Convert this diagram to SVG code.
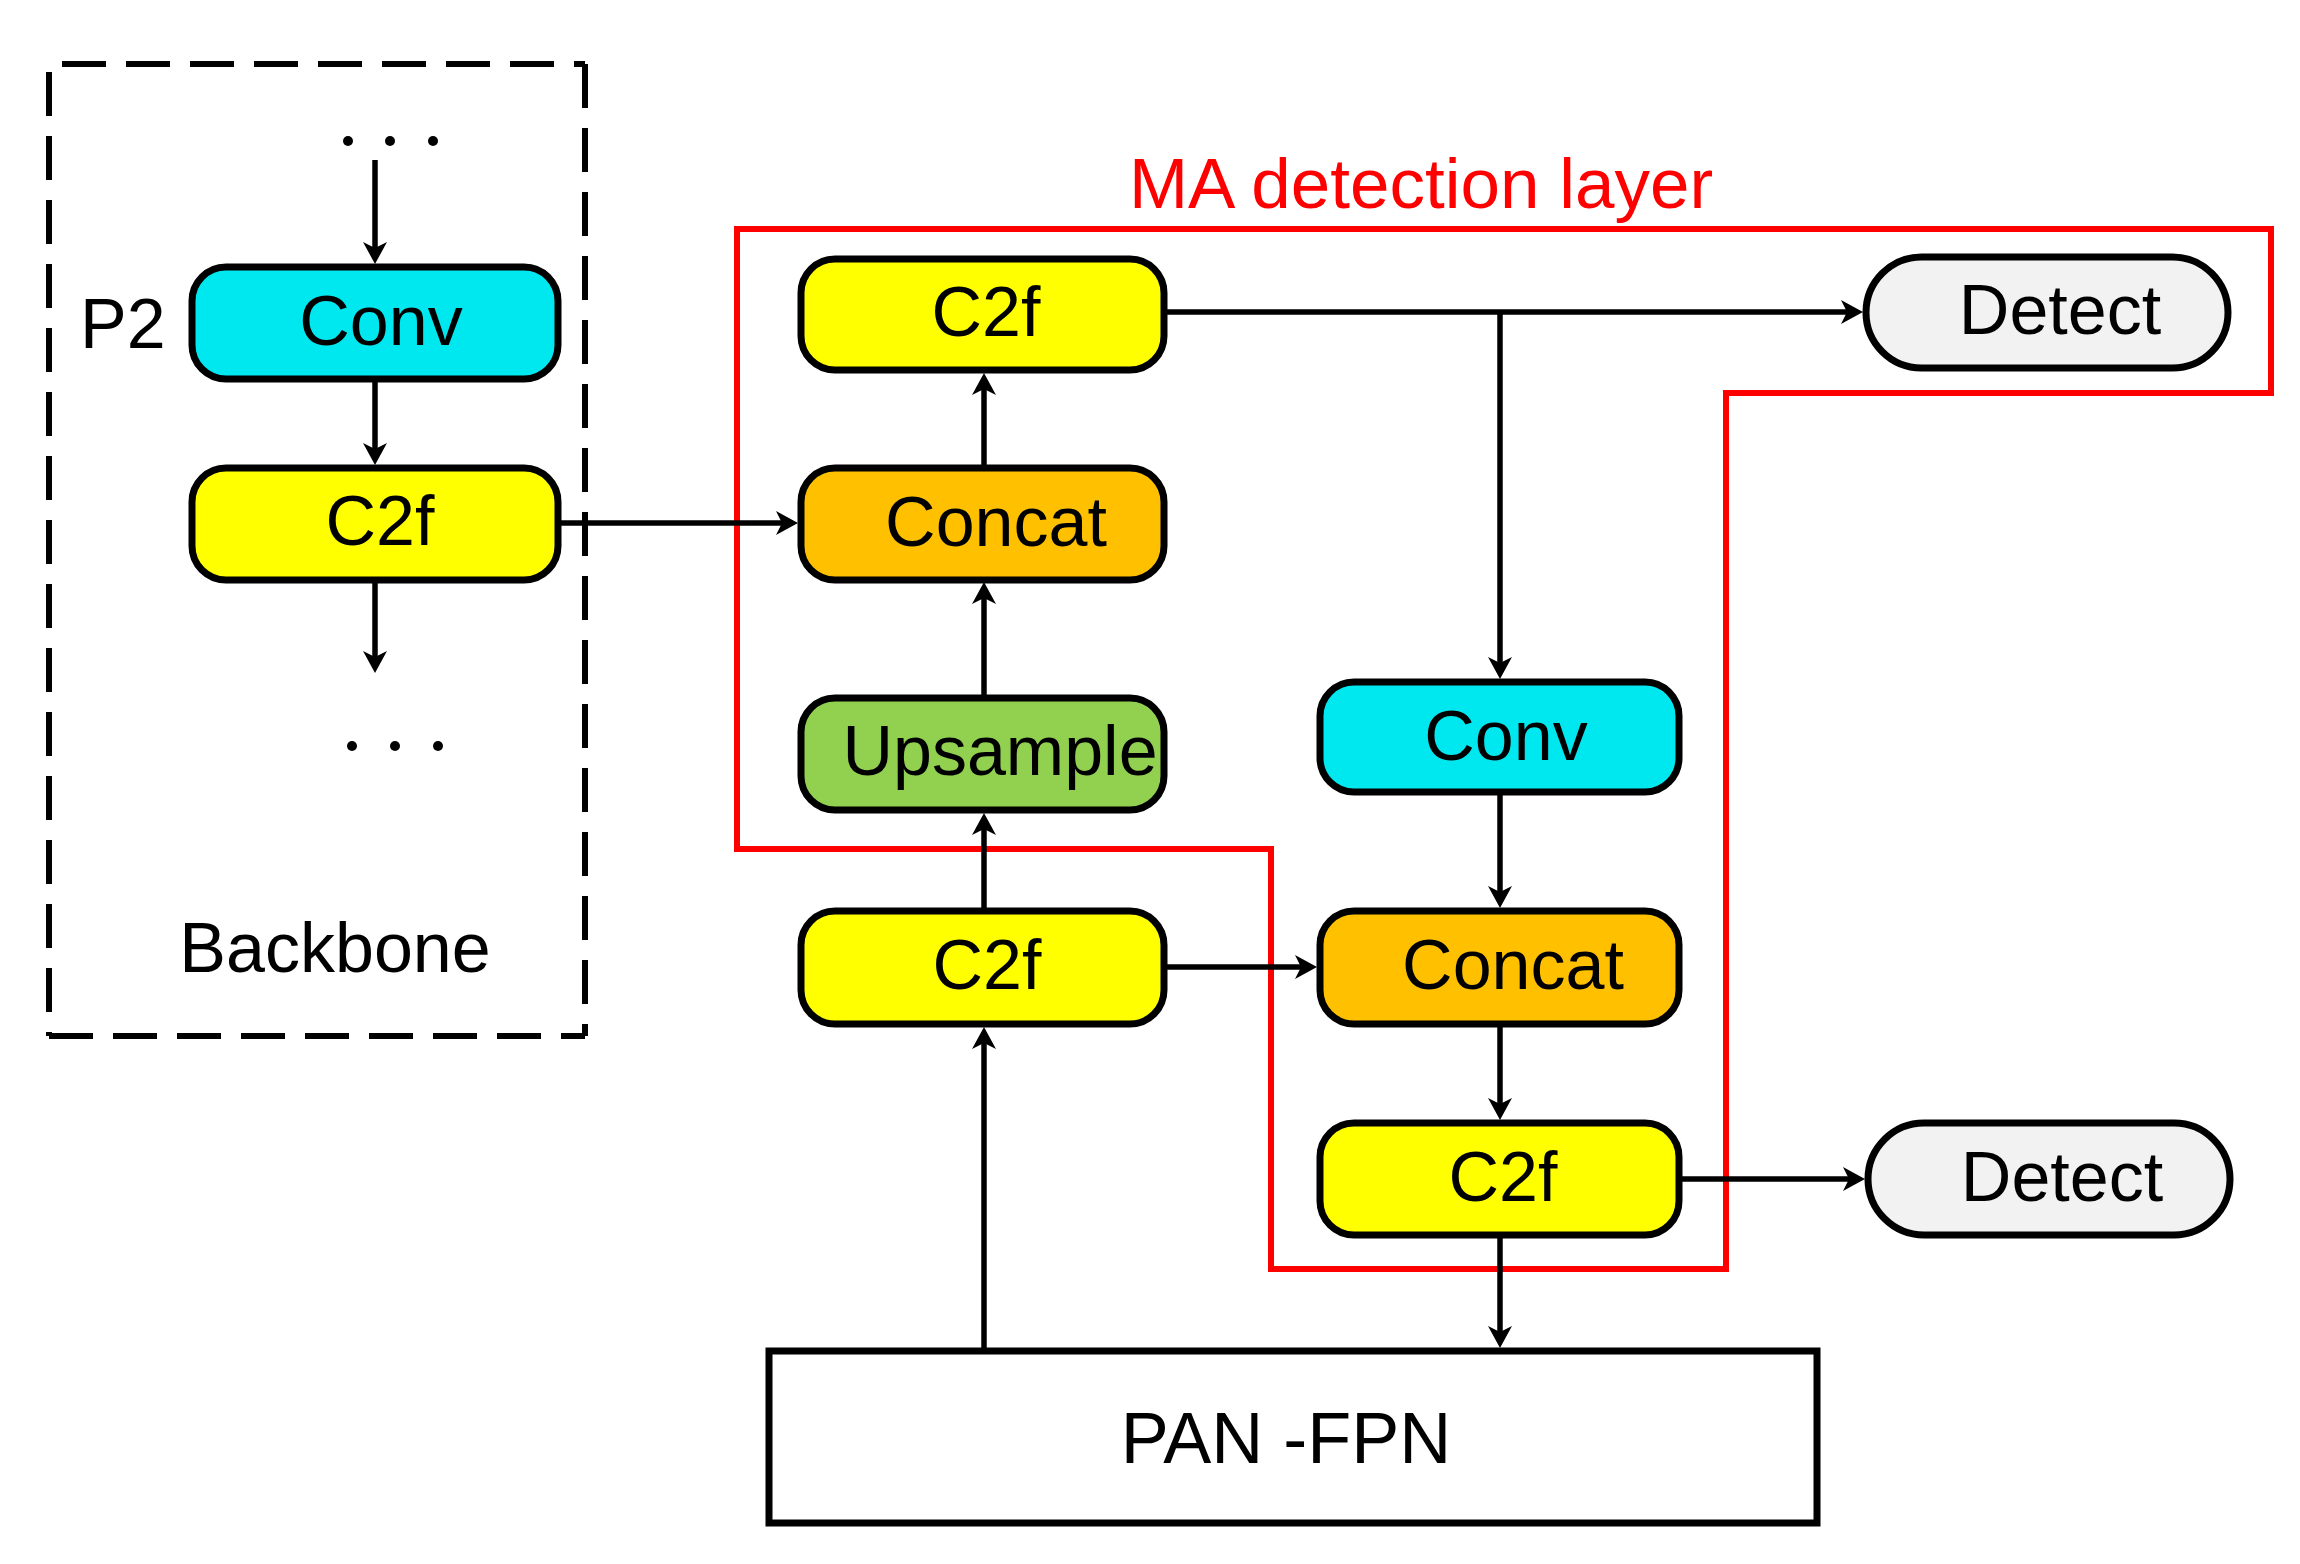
<svg xmlns="http://www.w3.org/2000/svg" width="2300" height="1564" viewBox="0 0 2300 1564">
<style>
.node{stroke:#000;stroke-width:7}
.t{font-family:"Liberation Sans",Arial,sans-serif;font-size:70px;fill:#000;text-anchor:middle}
.conn{stroke:#000;stroke-width:5.5;fill:none;marker-end:url(#ah)}
.yellow{fill:#FFFF00}
.cyan{fill:#00E8EF}
.orange{fill:#FFC000}
.green{fill:#92D050}
.grey{fill:#F2F2F2}
</style>
<defs>
<marker id="ah" viewBox="-14 -13 26 26" refX="0" refY="0" markerWidth="26" markerHeight="26" orient="auto" markerUnits="userSpaceOnUse">
<path d="M10,0 L-12,-12 L-6,0 L-12,12 Z" fill="#000"/>
</marker>
</defs>
<rect width="2300" height="1564" fill="#fff"/>

<g id="backbone-frame">
<path d="M62,64 H585 M585,64 V1036 M49,72 V1036 M49,1036 H585" stroke="#000" stroke-width="6" fill="none" stroke-dasharray="44 20"/>
<text class="t" x="335" y="972">Backbone</text>
<text x="80" y="348" style="font-family:'Liberation Sans',Arial,sans-serif;font-size:70px;fill:#000">P2</text>
<circle cx="348" cy="141" r="5"/><circle cx="390" cy="141" r="5"/><circle cx="433" cy="141" r="5"/>
<circle cx="352" cy="746" r="5"/><circle cx="395" cy="746" r="5"/><circle cx="438" cy="746" r="5"/>
</g>

<g id="ma-layer">
<polygon points="737,229 2271,229 2271,393 1726,393 1726,1269 1271,1269 1271,849 737,849" fill="none" stroke="#FF0000" stroke-width="6"/>
<text x="1421" y="208" style="font-family:'Liberation Sans',Arial,sans-serif;font-size:71px;fill:#FF0000;text-anchor:middle">MA detection layer</text>
</g>

<g id="connectors">
<line class="conn" x1="375" y1="160" x2="375" y2="254"/>
<line class="conn" x1="375" y1="382" x2="375" y2="455"/>
<line class="conn" x1="375" y1="582" x2="375" y2="663"/>
<line class="conn" x1="560" y1="523" x2="788" y2="523"/>
<line class="conn" x1="984" y1="465" x2="984" y2="383"/>
<line class="conn" x1="984" y1="695" x2="984" y2="592"/>
<line class="conn" x1="984" y1="908" x2="984" y2="823"/>
<line class="conn" x1="984" y1="1348" x2="984" y2="1037"/>
<line class="conn" x1="1167" y1="312" x2="1853" y2="312"/>
<line class="conn" x1="1500" y1="312" x2="1500" y2="669"/>
<line class="conn" x1="1500" y1="795" x2="1500" y2="898"/>
<line class="conn" x1="1167" y1="967" x2="1307" y2="967"/>
<line class="conn" x1="1500" y1="1027" x2="1500" y2="1110"/>
<line class="conn" x1="1682" y1="1179" x2="1855" y2="1179"/>
<line class="conn" x1="1500" y1="1238" x2="1500" y2="1338"/>
</g>

<g id="bb-conv">
<rect class="node cyan" x="192" y="267" width="366" height="112" rx="34"/>
<text class="t" x="381" y="345">Conv</text>
</g>
<g id="bb-c2f">
<rect class="node yellow" x="192" y="468" width="366" height="112" rx="34"/>
<text class="t" x="380" y="545">C2f</text>
</g>

<g id="c2f-top">
<rect class="node yellow" x="801" y="259" width="363" height="111" rx="34"/>
<text class="t" x="986" y="336">C2f</text>
</g>
<g id="concat-top">
<rect class="node orange" x="801" y="468" width="363" height="112" rx="34"/>
<text class="t" x="996" y="546">Concat</text>
</g>
<g id="upsample">
<rect class="node green" x="801" y="698" width="363" height="112" rx="34"/>
<text class="t" x="1000" y="775">Upsample</text>
</g>
<g id="c2f-mid">
<rect class="node yellow" x="801" y="911" width="363" height="113" rx="34"/>
<text class="t" x="987" y="989">C2f</text>
</g>

<g id="conv-right">
<rect class="node cyan" x="1320" y="682" width="359" height="110" rx="34"/>
<text class="t" x="1506" y="760">Conv</text>
</g>
<g id="concat-right">
<rect class="node orange" x="1320" y="911" width="359" height="113" rx="34"/>
<text class="t" x="1513" y="989">Concat</text>
</g>
<g id="c2f-right">
<rect class="node yellow" x="1320" y="1123" width="359" height="112" rx="34"/>
<text class="t" x="1503" y="1201">C2f</text>
</g>

<g id="detect-top">
<rect class="node grey" x="1866" y="257" width="362" height="111" rx="55.5"/>
<text class="t" x="2060" y="334">Detect</text>
</g>
<g id="detect-bottom">
<rect class="node grey" x="1868" y="1123" width="362" height="112" rx="56"/>
<text class="t" x="2062" y="1201">Detect</text>
</g>

<g id="pan-fpn">
<rect class="node" fill="#fff" x="769" y="1351" width="1048" height="172"/>
<text class="t" x="1286" y="1463" style="font-size:72px">PAN -FPN</text>
</g>
</svg>
